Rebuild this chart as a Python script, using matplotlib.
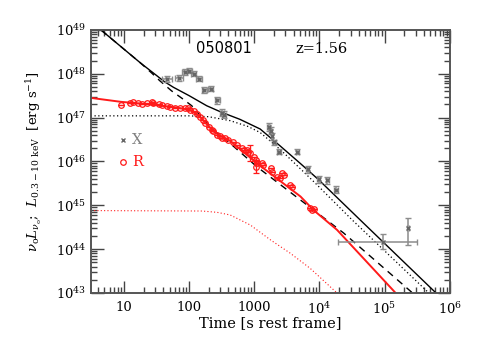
import numpy as np
import matplotlib
matplotlib.use("Agg")
import matplotlib.pyplot as plt
from matplotlib.ticker import LogLocator, FixedLocator, NullFormatter

# X-ray data (log10 of time [s], log10 of L [erg/s])
x_logt = [1.66, 1.85, 1.93, 2.00, 2.07, 2.15, 2.23, 2.33, 2.43, 2.50, 2.53,
          3.22, 3.25, 3.27, 3.31, 3.38, 3.66, 3.82, 3.99, 4.12, 4.25, 4.98, 5.36]
x_logL = [47.88, 47.91, 48.04, 48.07, 48.00, 47.89, 47.63, 47.66, 47.39, 47.11, 47.07,
          46.79, 46.70, 46.58, 46.44, 46.22, 46.22, 45.82, 45.59, 45.57, 45.36, 44.17, 44.49]
x_dt_lo = [0.08, 0.06, 0.04, 0.04, 0.04, 0.04, 0.04, 0.04, 0.04, 0.03, 0.03,
           0.02, 0.02, 0.02, 0.02, 0.03, 0.02, 0.02, 0.02, 0.02, 0.03, 0.69, 0.02]
x_dt_hi = [0.08, 0.06, 0.04, 0.04, 0.04, 0.04, 0.04, 0.04, 0.04, 0.03, 0.03,
           0.02, 0.02, 0.02, 0.02, 0.03, 0.02, 0.02, 0.02, 0.02, 0.03, 0.51, 0.02]
x_dL_lo = [0.07, 0.07, 0.06, 0.06, 0.06, 0.06, 0.06, 0.06, 0.08, 0.08, 0.08,
           0.09, 0.08, 0.08, 0.06, 0.06, 0.06, 0.08, 0.08, 0.08, 0.09, 0.17, 0.40]
x_dL_hi = [0.07, 0.07, 0.06, 0.06, 0.06, 0.06, 0.06, 0.06, 0.08, 0.08, 0.08,
           0.09, 0.08, 0.08, 0.06, 0.06, 0.06, 0.08, 0.08, 0.08, 0.09, 0.17, 0.21]

# optical (R) data
r_logt = [0.96, 1.09, 1.14, 1.22, 1.27, 1.35, 1.43, 1.45, 1.53, 1.58, 1.66, 1.71,
          1.78, 1.86, 1.94, 1.99, 2.02, 2.07, 2.12, 2.17, 2.22, 2.25, 2.30, 2.35,
          2.37, 2.43, 2.48, 2.50, 2.55, 2.60, 2.68, 2.73, 2.81, 2.84, 2.89, 2.91,
          2.94, 2.99, 3.02, 3.04, 3.02, 3.12, 3.14, 3.25, 3.27, 3.35, 3.40, 3.43,
          3.45, 3.55, 3.58, 3.86, 3.89, 3.91]
r_logL = [47.28, 47.33, 47.35, 47.33, 47.30, 47.33, 47.36, 47.34, 47.30, 47.29, 47.27, 47.24,
          47.23, 47.21, 47.21, 47.21, 47.17, 47.14, 47.08, 47.02, 46.95, 46.87, 46.79, 46.72,
          46.70, 46.60, 46.57, 46.53, 46.53, 46.49, 46.45, 46.38, 46.30, 46.26, 46.26, 46.22,
          46.19, 46.11, 46.03, 45.96, 45.87, 45.96, 45.92, 45.84, 45.77, 45.65, 45.62, 45.73,
          45.69, 45.46, 45.42, 44.93, 44.89, 44.91]
r_dL = [0.0] * len(r_logt)
r_dL[36] = 0.19
r_dL[40] = 0.14

# model curves
tot_x_logt = [0.50, 0.646, 1.0, 1.25, 1.5, 1.62, 1.76, 2.0, 2.27, 2.5, 2.78, 3.09, 3.4, 3.71, 3.99, 4.63, 5.79]
tot_x_logL = [49.17, 49.0, 48.56, 48.25, 47.96, 47.82, 47.69, 47.5, 47.27, 47.12, 46.96, 46.74, 46.35, 45.95,
              45.58, 44.66, 43.0]

plat_x_logt = [0.49, 2.0, 2.3, 2.63, 2.9, 3.09, 3.4, 3.71, 3.94, 4.5, 5.68]
plat_x_logL = [47.04, 47.04, 47.02, 46.93, 46.8, 46.66, 46.27, 45.83, 45.5, 44.67, 43.0]

steep_x_logt = [0.50, 0.646, 1.0, 1.25, 1.43, 1.55, 1.73, 1.89, 2.04, 2.14, 2.25, 2.37, 2.6,
                3.04, 3.71, 4.37, 5.43]
steep_x_logL = [49.17, 49.0, 48.56, 48.25, 48.01, 47.84, 47.61, 47.44, 47.27, 47.1, 46.92, 46.72, 46.45,
                45.88, 45.12, 44.37, 43.0]

tot_r_logt = [0.49, 0.95, 1.4, 1.8, 2.0, 2.1, 2.2, 2.3, 2.45, 2.63, 3.04, 3.71, 3.91, 4.27, 5.17]
tot_r_logL = [47.45, 47.36, 47.3, 47.23, 47.18, 47.1, 46.97, 46.8, 46.6, 46.47, 45.96, 45.2, 44.89, 44.44, 43.0]

plat_r_logt = [0.49, 2.2, 2.43, 2.63, 2.94, 3.25, 3.55, 3.86, 4.27]
plat_r_logL = [44.88, 44.87, 44.84, 44.78, 44.55, 44.21, 43.91, 43.56, 43.0]

xtick_vals = [10, 100, 1000, 1e4, 1e5, 1e6]
xtick_labels = ["10", "100", "1000", r"$\mathregular{10^4}$", r"$\mathregular{10^5}$", r"$\mathregular{10^6}$"]
ytick_vals = [1e43, 1e44, 1e45, 1e46, 1e47, 1e48, 1e49]
ytick_labels = [r"$\mathregular{10^{%d}}$" % k for k in range(43, 50)]


def lin(a):
    return 10 ** np.array(a)


plt.rcParams["font.family"] = ["DejaVu Serif"]
plt.rcParams["mathtext.fontset"] = "dejavuserif"

fig = plt.figure(figsize=(4.91, 3.6), dpi=100)
ax = fig.add_axes([0.185, 0.186, 0.731, 0.731])
ax.set_xscale("log")
ax.set_yscale("log")

gray = "#808080"
red = "#ff1a1a"

# models
ax.plot(lin(tot_x_logt), lin(tot_x_logL), color="black", lw=1.0)
ax.plot(lin(plat_x_logt), lin(plat_x_logL), color="black", lw=0.9, ls=(0, (1, 2)))
ax.plot(lin(steep_x_logt), lin(steep_x_logL), color="black", lw=1.0, ls=(0, (5, 4)))
ax.plot(lin(tot_r_logt), lin(tot_r_logL), color=red, lw=1.4)
ax.plot(lin(plat_r_logt), lin(plat_r_logL), color=red, lw=0.8, ls=(0, (1, 2)))

# X data
xt = np.array(x_logt)
xl = np.array(x_logL)
xerr = [10 ** xt - 10 ** (xt - np.array(x_dt_lo)), 10 ** (xt + np.array(x_dt_hi)) - 10 ** xt]
yerr = [10 ** xl - 10 ** (xl - np.array(x_dL_lo)), 10 ** (xl + np.array(x_dL_hi)) - 10 ** xl]
ax.errorbar(10 ** xt, 10 ** xl, xerr=xerr, yerr=yerr, fmt="x", ms=2.5, color="#666666",
            mew=1.0, ecolor="#8c8c8c", elinewidth=1.1, capsize=2.2, capthick=1.0, zorder=3)

# R data
rt = np.array(r_logt)
rl = np.array(r_logL)
rd = np.array(r_dL)
ryerr = [10 ** rl - 10 ** (rl - rd), 10 ** (rl + rd) - 10 ** rl]
ax.errorbar(10 ** rt, 10 ** rl, yerr=ryerr, fmt="o", ms=4, mfc="none", mec=red, mew=0.9,
            ecolor=red, elinewidth=1.0, capsize=2.5, zorder=4)

# legend-like labels
ax.plot([0.09], [0.582], marker="x", ms=3, color="#666666", mew=1.0, transform=ax.transAxes)
ax.text(0.115, 0.582, "X", color=gray, fontsize=10.5, va="center", ha="left", transform=ax.transAxes)
ax.plot([0.09], [0.497], marker="o", ms=4, mfc="none", mec=red, mew=0.9, transform=ax.transAxes)
ax.text(0.115, 0.497, "R", color=red, fontsize=10.5, va="center", ha="left", transform=ax.transAxes)

ax.text(0.37, 0.928, "050801", fontsize=10.5, ha="center", va="center", transform=ax.transAxes,
        family="DejaVu Sans")
ax.text(0.642, 0.928, "z=1.56", fontsize=10.5, ha="center", va="center", transform=ax.transAxes)

ax.set_xlim(3.1, 1e6)
ax.set_ylim(1e43, 1e49)

ax.xaxis.set_major_locator(FixedLocator(xtick_vals))
ax.set_xticklabels(xtick_labels)
ax.yaxis.set_major_locator(FixedLocator(ytick_vals))
ax.set_yticklabels(ytick_labels)
ax.xaxis.set_minor_locator(LogLocator(base=10, subs=np.arange(2, 10), numticks=20))
ax.yaxis.set_minor_locator(LogLocator(base=10, subs=np.arange(2, 10), numticks=20))
ax.xaxis.set_minor_formatter(NullFormatter())
ax.yaxis.set_minor_formatter(NullFormatter())

ax.tick_params(which="both", direction="in", top=True, right=True, colors="#444444",
               labelcolor="black", labelsize=9.5, width=1.0)
ax.tick_params(which="major", length=9)
ax.tick_params(which="minor", length=4.5)
ax.tick_params(axis="x", pad=6)
for s in ax.spines.values():
    s.set_color("#555555")
    s.set_linewidth(1.4)

ax.set_xlabel("Time [s rest frame]", fontsize=10.5, labelpad=-1)
ax.set_ylabel(r"$\nu_{\rm o}L_{\nu_{\rm o}}$;  $L_{\rm 0.3-10\ keV}$  [erg s$^{-1}$]", fontsize=9.5,
              labelpad=8)

fig.savefig("out.png", dpi=100)
